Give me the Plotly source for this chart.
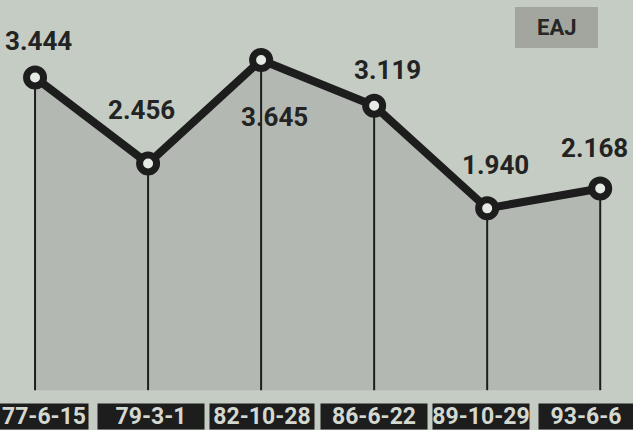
import plotly.graph_objects as go

dates = ["77-6-15", "79-3-1", "82-10-28", "86-6-22", "89-10-29", "93-6-6"]
values = [3.444, 2.456, 3.645, 3.119, 1.940, 2.168]
value_labels = ["3.444", "2.456", "3.645", "3.119", "1.940", "2.168"]
badge = "EAJ"

BASE = -0.15
BG = "#c4ccc3"
FILL = "#b3b9b2"
DARK = "#1c1d1c"
FONT = "Roboto"

xs = list(range(len(dates)))

fig = go.Figure()
# baseline for the fill
fig.add_trace(go.Scatter(x=xs, y=[BASE] * len(xs), mode="lines",
                         line=dict(width=0, color=FILL), hoverinfo="skip",
                         showlegend=False))
# filled area + vertical drop lines (error bars down to base)
fig.add_trace(go.Scatter(x=xs, y=values, mode="lines", fill="tonexty",
                         fillcolor=FILL, line=dict(width=0),
                         error_y=dict(type="data", symmetric=False,
                                      array=[0] * len(values),
                                      arrayminus=[v - BASE for v in values],
                                      color=DARK, thickness=2, width=0),
                         hoverinfo="skip", showlegend=False))
# main line with ring markers
fig.add_trace(go.Scatter(x=xs, y=values, mode="lines+markers",
                         line=dict(color=DARK, width=8),
                         marker=dict(size=17, color="#e6eae4",
                                     line=dict(color=DARK, width=7)),
                         showlegend=False))

# value labels
offsets = [(3, 36), (-7, 53), (13, -57), (13, 36), (8, 43), (-6, 41)]
for i, (v, t) in enumerate(zip(values, value_labels)):
    dx, dy = offsets[i]
    fig.add_annotation(x=i, y=v, text=f"<b>{t}</b>", showarrow=False,
                       xshift=dx, yshift=dy, xanchor="center", yanchor="middle",
                       font=dict(family=FONT, size=26, color="#222322"))

# date boxes
box_shift = [9, 3, 1, 0, -6, -14]
box_w = [88, 106, 104, 106, 96, 94]
for i, d in enumerate(dates):
    fig.add_annotation(x=i, y=0, yref="paper", yanchor="bottom", xanchor="center",
                       text=f"<b>{d}</b>", showarrow=False,
                       xshift=box_shift[i], width=box_w[i], height=25,
                       bgcolor=DARK, borderpad=0,
                       font=dict(family=FONT, size=23, color="#d3d8d0"))

# badge
fig.add_shape(type="rect", xref="paper", yref="paper",
              x0=515 / 633, x1=598 / 633, y0=1 - 48 / 430, y1=1 - 7 / 430,
              fillcolor="#a2a69f", line=dict(width=0), layer="below")
fig.add_annotation(x=556.5 / 633, y=1 - 27.5 / 430, xref="paper", yref="paper",
                   xanchor="center", yanchor="middle",
                   text=f"<b>{badge}</b>", showarrow=False,
                   font=dict(family=FONT, size=22, color="#262726"))

fig.update_layout(
    width=633, height=430,
    margin=dict(l=0, r=0, t=0, b=0),
    paper_bgcolor=BG, plot_bgcolor=BG,
    xaxis=dict(range=[-0.31, 5.29], visible=False, fixedrange=True),
    yaxis=dict(range=[3.645 - 370 / 87, 3.645 + 60 / 87], visible=False,
               fixedrange=True),
)

fig.write_html("out.html", config={"displayModeBar": False},
               post_script="document.body.style.margin='0';document.body.style.padding='0';document.body.style.overflow='hidden';")
